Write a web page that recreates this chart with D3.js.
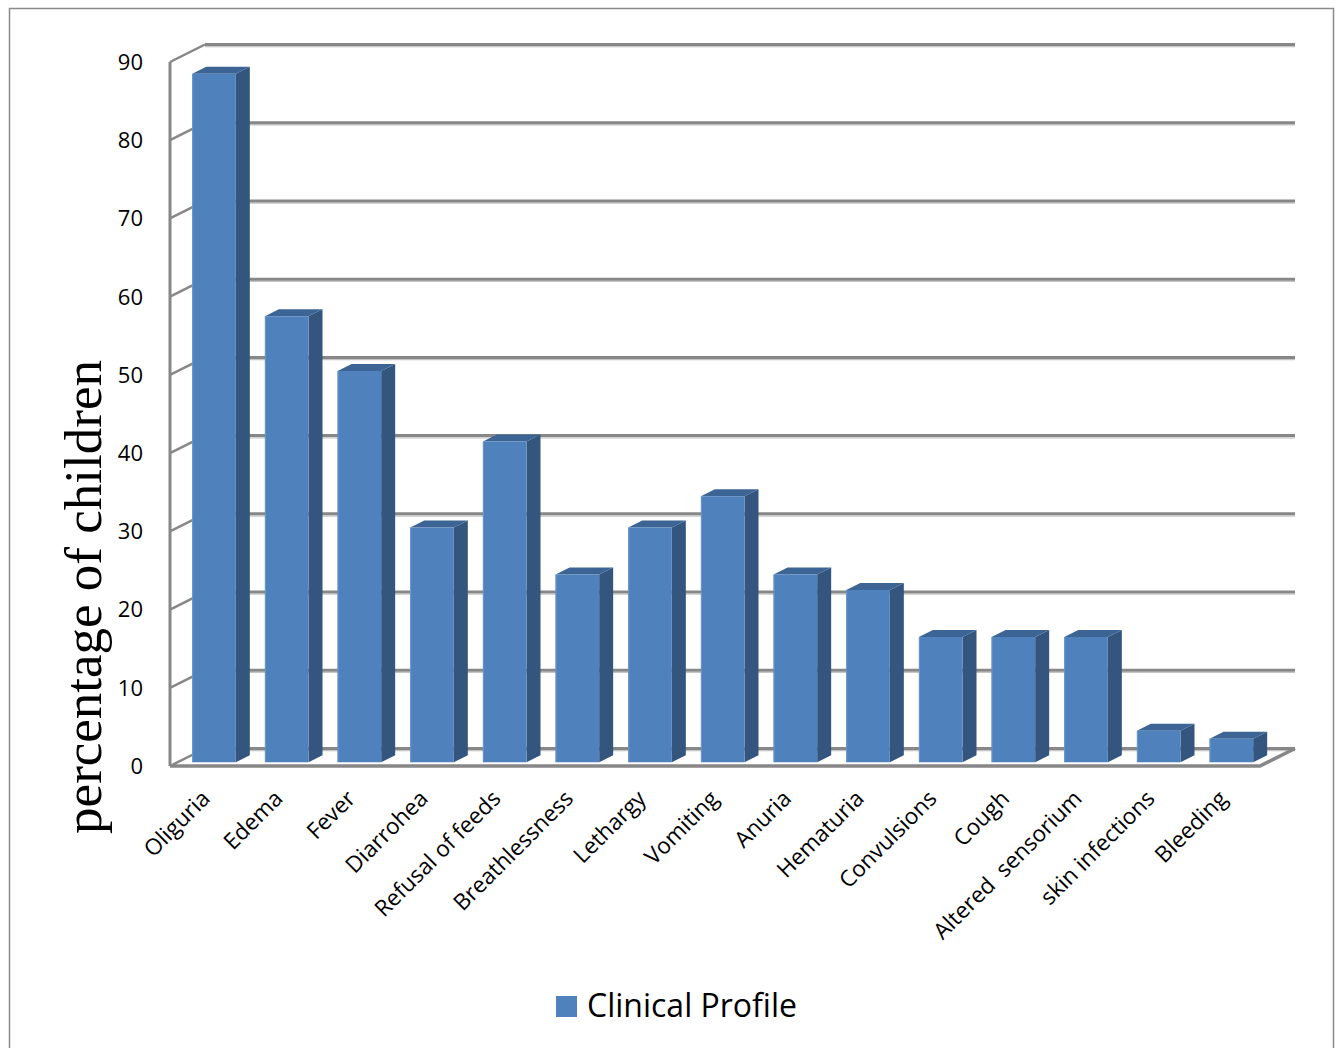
<!DOCTYPE html>
<html>
<head>
<meta charset="utf-8">
<script src="https://cdn.jsdelivr.net/npm/d3@7"></script>
<style>
  html, body { margin: 0; padding: 0; background: #ffffff; }
  svg { display: block; }
</style>
</head>
<body>
<script>
// Clinical profile of the children (percentage)
const categories = ["Oliguria", "Edema", "Fever", "Diarrohea", "Refusal of feeds", "Breathlessness",
  "Lethargy", "Vomiting", "Anuria", "Hematuria", "Convulsions", "Cough", "Altered  sensorium",
  "skin infections", "Bleeding"];
const values = [88, 57, 50, 30, 41, 24, 30, 34, 24, 22, 16, 16, 16, 4, 3];
const yTicks = [0, 10, 20, 30, 40, 50, 60, 70, 80, 90];
const seriesName = "Clinical Profile";
const yTitle = "percentage of children";

const W = 1338, H = 1048;
const svg = d3.select("body").append("svg").attr("width", W).attr("height", H);

// Outer chart frame
svg.append("rect").attr("x", 9.5).attr("y", 8.5).attr("width", 1324).attr("height", 1060)
  .attr("fill", "#fff").attr("stroke", "#8a8a8a").attr("stroke-width", 1.5);

// Front plane of the 3D box, with depth offset towards the back wall
const x0 = 170, x1 = 1260;
const DX = 35, DY = 17.5;
const x = d3.scaleBand().domain(categories).range([x0, x1]).paddingInner(0.4).paddingOuter(0.2);
const y = d3.scaleLinear().domain([0, 90]).range([766, 62]);
const P = (px, v, z) => [px + z * DX, y(v) - z * DY];

const gridCol = "#878787", gridShade = "#c4c4c4";

// Floor
const floor = [P(x0, 0, 0), P(x1, 0, 0), P(x1, 0, 1), P(x0, 0, 1)];
svg.append("path").attr("d", "M" + floor.map(p => p.join(",")).join("L") + "Z")
  .attr("fill", "#ffffff").attr("stroke", "none");

// Back wall gridlines
const grid = svg.append("g");
yTicks.forEach(t => {
  const a = P(x0, t, 1), b = P(x1, t, 1);
  grid.append("line").attr("x1", a[0]).attr("y1", a[1] + 2.2).attr("x2", b[0]).attr("y2", b[1] + 2.2)
    .attr("stroke", gridShade).attr("stroke-width", 1.2);
  grid.append("line").attr("x1", a[0]).attr("y1", a[1]).attr("x2", b[0]).attr("y2", b[1])
    .attr("stroke", gridCol).attr("stroke-width", 3);
  // side wall diagonals
  const c = P(x0, t, 0);
  grid.append("line").attr("x1", c[0]).attr("y1", c[1]).attr("x2", a[0]).attr("y2", a[1])
    .attr("stroke", gridCol).attr("stroke-width", 2.5);
});

// Left (value) axis line
svg.append("line").attr("x1", x0).attr("y1", y(90)).attr("x2", x0).attr("y2", y(0))
  .attr("stroke", gridCol).attr("stroke-width", 3);

// Floor front and right edges
const fe = [P(x0, 0, 0), P(x1, 0, 0), P(x1, 0, 1)];
svg.append("path").attr("d", "M" + fe.map(p => p.join(",")).join("L"))
  .attr("fill", "none").attr("stroke", gridCol).attr("stroke-width", 3.5);

// Y tick labels
svg.append("g").selectAll("text").data(yTicks).join("text")
  .attr("x", 143).attr("y", d => y(d)).attr("dy", "0.36em")
  .attr("text-anchor", "end")
  .attr("font-family", "'Open Sans', sans-serif").attr("font-size", 22).attr("fill", "#000")
  .text(d => d);

// 3D bars
const z0 = 0.22, z1 = 0.62;
const bars = svg.append("g");
const poly = pts => "M" + pts.map(p => p.join(",")).join("L") + "Z";
categories.forEach((c, i) => {
  const v = values[i];
  const xl = x(c), xr = x(c) + x.bandwidth();
  const g = bars.append("g");
  // side face
  g.append("path").attr("d", poly([P(xr, 0, z0), P(xr, v, z0), P(xr, v, z1), P(xr, 0, z1)]))
    .attr("fill", "#33557e");
  // top face
  g.append("path").attr("d", poly([P(xl, v, z0), P(xr, v, z0), P(xr, v, z1), P(xl, v, z1)]))
    .attr("fill", "#3c6494");
  // front face
  g.append("path").attr("d", poly([P(xl, 0, z0), P(xr, 0, z0), P(xr, v, z0), P(xl, v, z0)]))
    .attr("fill", "#4f81bd");
  g.append("line").attr("x1", P(xl, 0, z0)[0] + 0.5).attr("y1", P(xl, 0, z0)[1])
    .attr("x2", P(xl, v, z0)[0] + 0.5).attr("y2", P(xl, v, z0)[1])
    .attr("stroke", "#6b96cb").attr("stroke-width", 1);
});

// Category labels
svg.append("g").selectAll("text").data(categories).join("text")
  .attr("transform", d => `translate(${x(d) + x.bandwidth() / 2 + 5},${800}) rotate(-45)`)
  .attr("text-anchor", "end")
  .attr("font-family", "'Open Sans', sans-serif").attr("font-size", 22.5).attr("fill", "#000")
  .style("white-space", "pre")
  .text(d => d);

// Y axis title
svg.append("text")
  .attr("transform", `translate(101,597) rotate(-90)`)
  .attr("text-anchor", "middle")
  .attr("font-family", "'Liberation Serif', 'Times New Roman', serif").attr("font-size", 53)
  .attr("fill", "#000")
  .text(yTitle);

// Legend
const lg = svg.append("g");
lg.append("rect").attr("x", 556).attr("y", 996).attr("width", 21).attr("height", 21).attr("fill", "#4f81bd");
lg.append("text").attr("x", 587).attr("y", 1017)
  .attr("font-family", "'Open Sans', sans-serif").attr("font-size", 32).attr("fill", "#000")
  .text(seriesName);
</script>
</body>
</html>
